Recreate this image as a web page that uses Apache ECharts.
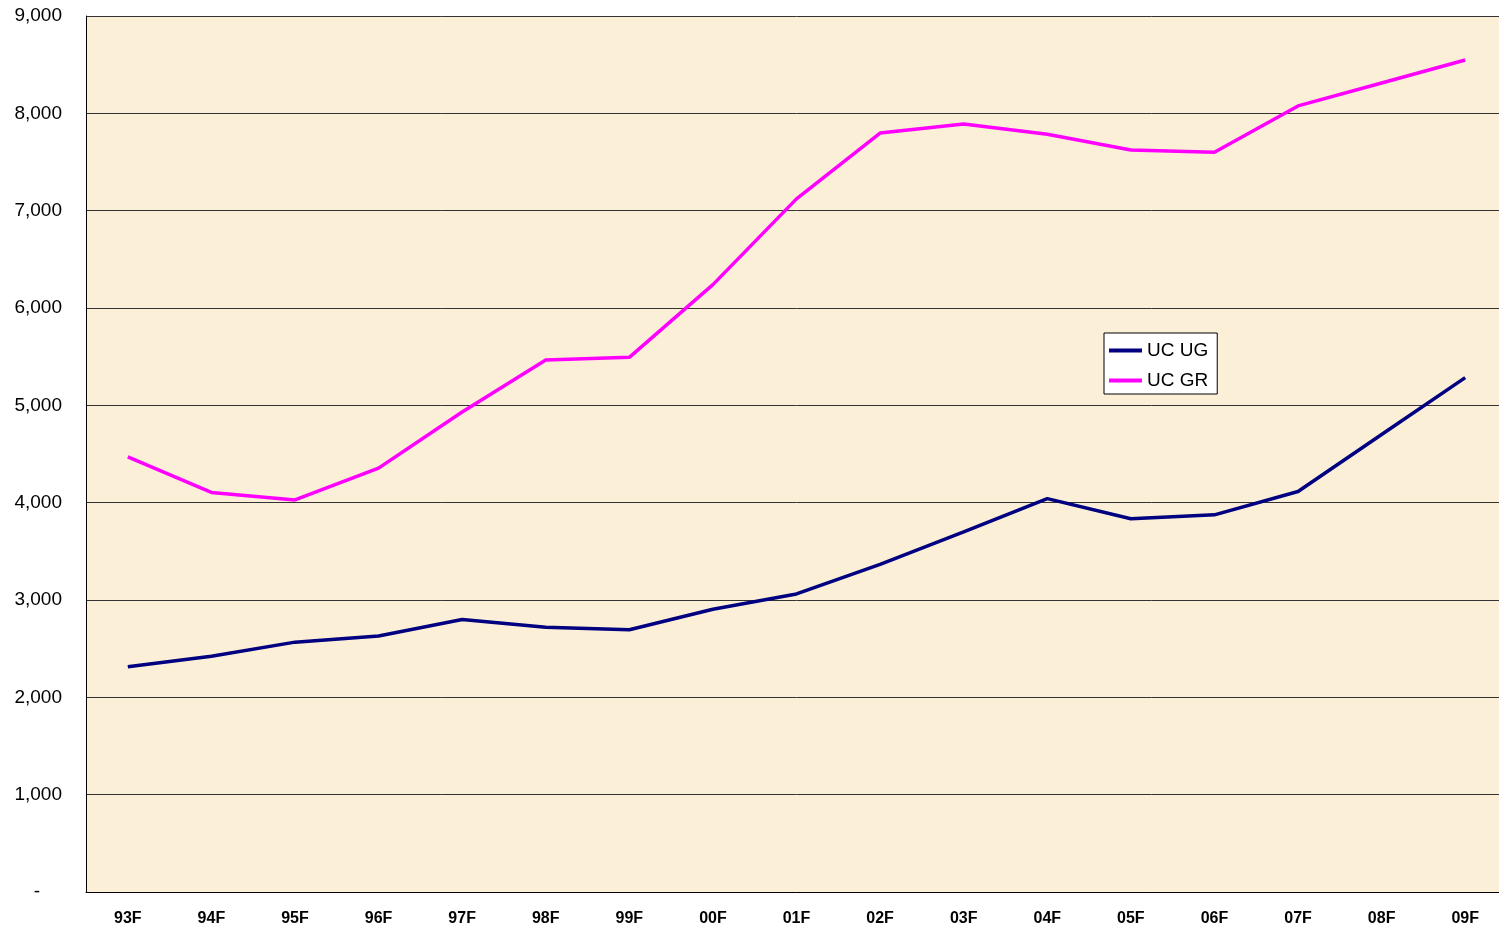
<!DOCTYPE html>
<html>
<head>
<meta charset="utf-8">
<script src="https://cdn.jsdelivr.net/npm/echarts@6/dist/echarts.min.js"></script>
<style>
html,body{margin:0;padding:0;background:#ffffff;overflow:hidden;}
#chart{width:1507px;height:933px;}
</style>
</head>
<body>
<div id="chart"></div>
<script>
const categories = ['93F','94F','95F','96F','97F','98F','99F','00F','01F','02F','03F','04F','05F','06F','07F','08F','09F'];
const ucUG = [2315, 2422, 2567, 2631, 2800, 2720, 2695, 2905, 3062, 3365, 3700, 4042, 3834, 3875, 4115, 4700, 5285];
const ucGR = [4470, 4105, 4028, 4355, 4932, 5466, 5493, 6240, 7121, 7797, 7890, 7785, 7624, 7600, 8076, 8312, 8548];
const yTicks = [0, 1000, 2000, 3000, 4000, 5000, 6000, 7000, 8000, 9000];

const chart = echarts.init(document.getElementById('chart'));
chart.setOption({
  animation: false,
  backgroundColor: '#ffffff',
  grid: {
    left: 86, right: 0, top: 16, bottom: 41,
    show: true,
    backgroundColor: '#FBEFD8',
    borderColor: 'transparent',
    borderWidth: 0
  },
  legend: {
    orient: 'vertical',
    left: 1104, top: 333,
    backgroundColor: '#ffffff',
    borderColor: '#000000',
    borderWidth: 1,
    borderRadius: 0,
    padding: [8, 9, 4, 5],
    itemGap: 11,
    itemWidth: 33,
    itemHeight: 4,
    icon: 'rect',
    textStyle: { fontFamily: 'Liberation Sans', fontSize: 19, color: '#000' },
    data: ['UC UG', 'UC GR']
  },
  xAxis: {
    type: 'category',
    data: categories,
    boundaryGap: true,
    axisLine: { show: true, lineStyle: { color: '#000', width: 1 } },
    axisTick: { show: false },
    axisLabel: { fontFamily: 'Liberation Sans', fontSize: 16, fontWeight: 'bold', color: '#000', margin: 19 }
  },
  yAxis: {
    type: 'value',
    min: 0, max: 9000, interval: 1000,
    axisLine: { show: true, lineStyle: { color: '#000', width: 1 } },
    axisTick: { show: false },
    splitLine: { show: true, lineStyle: { color: '#333', width: 1 } },
    axisLabel: {
      fontFamily: 'Liberation Sans', fontSize: 19, color: '#000', margin: 24,
      formatter: function (v) { return yTicks.indexOf(v) === 0 ? '{z|-}' : v.toLocaleString('en-US'); },
      rich: { z: { fontFamily: 'Liberation Sans', fontSize: 19, color: '#000', padding: [0, 22, 0, 0] } }
    }
  },
  series: [
    {
      name: 'UC UG', type: 'line', data: ucUG,
      symbol: 'none',
      lineStyle: { color: '#000080', width: 3.5 },
      itemStyle: { color: '#000080' }
    },
    {
      name: 'UC GR', type: 'line', data: ucGR,
      symbol: 'none',
      lineStyle: { color: '#FF00FF', width: 3.5 },
      itemStyle: { color: '#FF00FF' }
    }
  ]
});
</script>
</body>
</html>
